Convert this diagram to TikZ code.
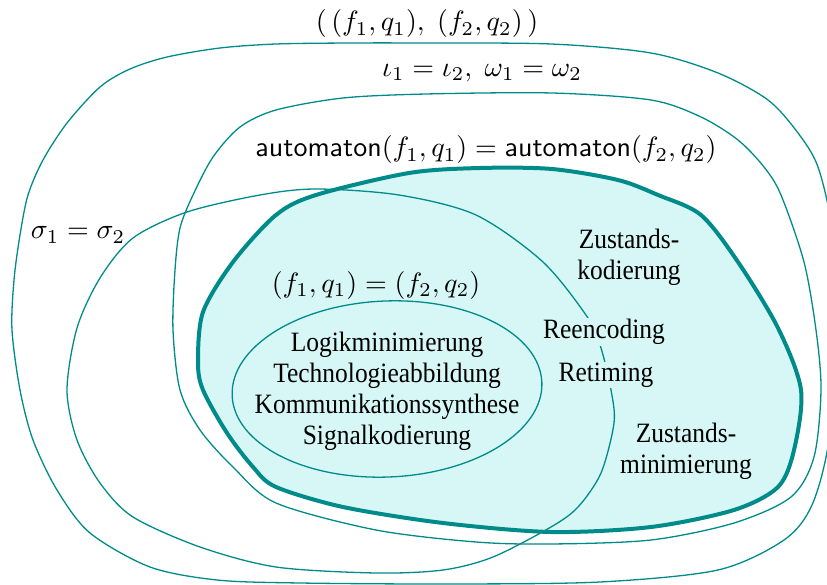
\documentclass[tikz,border=0pt]{standalone}
\usepackage{fontspec}
\setmainfont{Liberation Serif}
\definecolor{myteal}{HTML}{008B8B}
\definecolor{cyanfill}{HTML}{D7F7F6}
\begin{document}
\begin{tikzpicture}[x=1pt,y=-1pt,
  thinc/.style={draw=myteal,line width=1.3pt},
  thickc/.style={draw=myteal,line width=4pt},
  lab/.style={font=\fontsize{10}{11.07}\selectfont,transform shape,scale=2.8,inner sep=0.4pt,align=center},
  txt/.style={lab,xscale=0.91},
  masktxt/.style={txt,fill=cyanfill}]
\useasboundingbox (0,0) rectangle (827,585);
\clip (0,0) rectangle (827,585);
% filled region D
\fill[cyanfill] plot[smooth cycle] coordinates {(316,195) (409,173) (480,168) (552,169) (618,180) (658,195) (701,215) (738,262) (778,328) (801,390) (794,450) (778,487) (734,510) (651,527) (551,532) (443,523) (343,507) (276,487) (253,467) (227,433) (203,390) (198,362) (203,312) (233,262) (276,215)};
% outer curve A
\draw[thinc] plot[smooth cycle] coordinates {(100,87) (130,69) (167,57) (220,48) (276,44) (350,43) (420,43) (551,44) (651,53) (718,73) (768,100) (798,133) (818,167) (832,230) (837,330) (829,440) (812,505) (784,540) (718,570) (600,582) (450,584) (300,583) (217,580) (150,567) (90,533) (57,490) (33,440) (20,390) (12,330) (14,280) (20,235) (28,195) (43,160) (67,123)};
% curve B
\draw[thinc] plot[smooth cycle] coordinates {(240,127) (276,110) (343,98) (426,94) (552,93) (651,100) (701,117) (738,140) (764,167) (781,195) (804,262) (816,330) (821,390) (814,457) (791,497) (734,523) (651,540) (551,544) (476,542) (376,530) (276,503) (233,467) (200,430) (180,390) (173,330) (175,270) (180,228) (193,195) (213,157)};
% curve C
\draw[thinc] plot[smooth cycle] coordinates {(187,212) (260,195) (316,189) (399,195) (476,215) (543,262) (588,318) (601,348) (611,390) (614,423) (601,473) (578,507) (551,527) (493,557) (443,570) (376,573) (276,567) (200,547) (133,517) (100,483) (77,440) (67,390) (77,328) (100,278) (133,238)};
% thick curve D
\draw[thickc] plot[smooth cycle] coordinates {(316,195) (409,173) (480,168) (552,169) (618,180) (658,195) (701,215) (738,262) (778,328) (801,390) (794,450) (778,487) (734,510) (651,527) (551,532) (443,523) (343,507) (276,487) (253,467) (227,433) (203,390) (198,362) (203,312) (233,262) (276,215)};
% ellipse E
\draw[thinc,rotate around={2.5:(387,389)}] (387,389) ellipse [x radius=155, y radius=88];
% labels
\node[lab] (labA) at (427,24) {$(\,(f_1,q_1),\;(f_2,q_2)\,)$};
\node[lab] (labB) at (482,73) {$\iota_1=\iota_2,\;\omega_1=\omega_2$};
\node[lab] (labD) at (486,150) {$\mathsf{automaton}(f_1,q_1)=\mathsf{automaton}(f_2,q_2)$};
\node[lab] (labC) at (78,235) {$\sigma_1=\sigma_2$};
\node[lab] (labE) at (376,285) {$(f_1,q_1)=(f_2,q_2)$};
\node[txt] (inE) at (387,391) {Logikminimierung\\Technologieabbildung\\Kommunikationssynthese\\Signalkodierung};
\node[txt] (zk) at (629,257) {Zustands-\\kodierung};
\node[masktxt] (reenc) at (604,332) {Reencoding};
\node[masktxt] (retim) at (606,375) {Retiming};
\node[txt] (zm) at (686,451) {Zustands-\\minimierung};
\end{tikzpicture}
\end{document}
